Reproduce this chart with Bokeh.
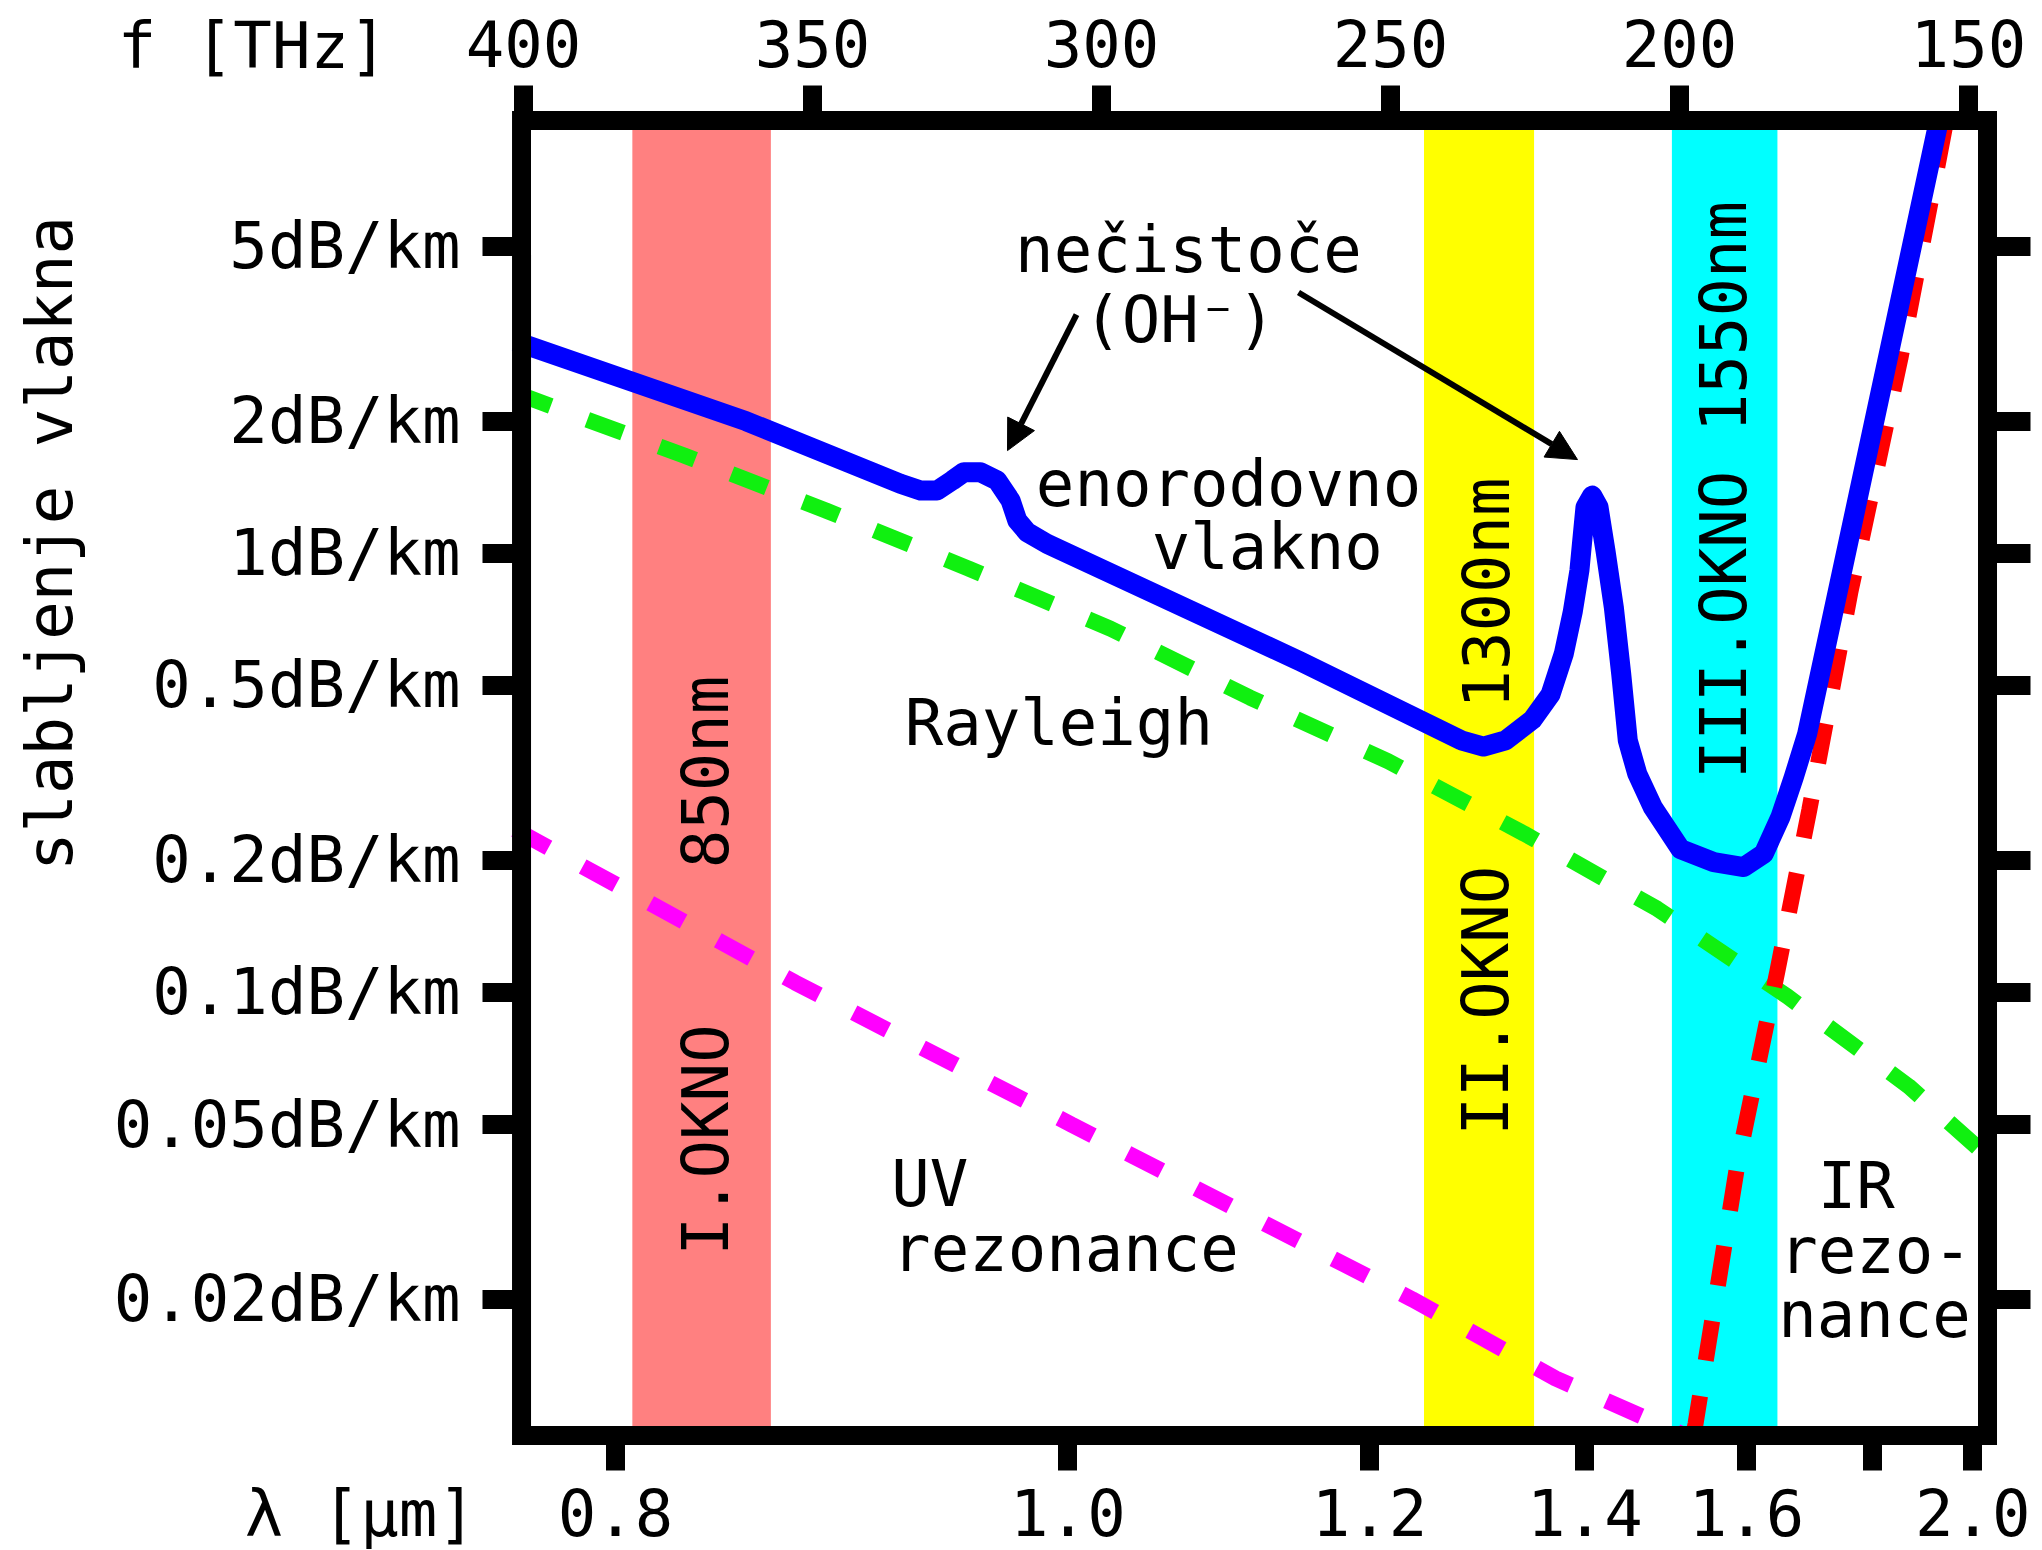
import math
from bokeh.plotting import figure
from bokeh.models import (Range1d, LinearAxis, LogAxis, FixedTicker, CustomJSTickFormatter,
                          Label, Arrow, NormalHead, BoxAnnotation)
from bokeh.embed import file_html
from bokeh.resources import INLINE

C = 299.792458  # THz * um

# ---------------- data (wavelength in um, attenuation in dB/km) ----------------
band_lo = [0.806, 1.245, 1.501]
band_hi = [0.859, 1.347, 1.645]
band_colors = ["#ff8080", "#ffff00", "#00ffff"]

fiber_lam = [0.766, 0.849, 0.9153, 0.9247, 0.9326, 0.9399, 0.9456, 0.9539, 0.9624, 0.9693,
             0.9728, 0.9780, 0.9887, 1.1475, 1.2777, 1.2981, 1.3190, 1.3454, 1.3637, 1.3776,
             1.3870, 1.3941, 1.3971, 1.4006, 1.4079, 1.4149, 1.4208, 1.4226, 1.4320, 1.4404,
             1.4480, 1.4590, 1.4776, 1.5118, 1.5550, 1.5962, 1.6249, 1.6496, 1.6698, 1.6907,
             1.928]
fiber_att = [3.04, 2.00, 1.440, 1.390, 1.390, 1.465, 1.530, 1.530, 1.465, 1.319,
             1.188, 1.117, 1.051, 0.567, 0.375, 0.363, 0.375, 0.418, 0.477, 0.592,
             0.737, 0.915, 1.069, 1.274, 1.354, 1.274, 1.069, 1.015, 0.754, 0.532,
             0.375, 0.315, 0.264, 0.212, 0.198, 0.193, 0.207, 0.251, 0.309, 0.388,
             9.68]

rayleigh_lam = [0.766, 0.825, 0.882, 0.948, 1.024, 1.112, 1.215, 1.337, 1.483, 1.660, 1.868, 2.033]
rayleigh_att = [2.32, 1.670, 1.252, 0.923, 0.674, 0.469, 0.336, 0.230, 0.155, 0.0979, 0.0611, 0.0423]

uv_lam = [0.766, 0.869, 1.002, 1.235, 1.369, 1.518]
uv_att = [0.235, 0.1053, 0.0500, 0.0200, 0.0132, 0.00979]

ir_lam = [1.528, 1.531, 1.587, 1.644, 1.694, 1.762, 1.852, 1.917, 1.943]
ir_att = [0.00979, 0.0104, 0.0403, 0.110, 0.260, 0.818, 2.78, 6.84, 9.68]

f_ticks = [400, 350, 300, 250, 200, 150]
f_labels = ["400", "350", "300", "250", "200", "150"]
lam_ticks = [0.8, 1.0, 1.2, 1.4, 1.6, 1.8, 2.0]
lam_labels = ["0.8", "1.0", "1.2", "1.4", "1.6", "", "2.0"]
att_ticks = [5, 2, 1, 0.5, 0.2, 0.1, 0.05, 0.02]
att_labels = ["5dB/km", "2dB/km", "1dB/km", "0.5dB/km", "0.2dB/km", "0.1dB/km",
              "0.05dB/km", "0.02dB/km"]

FONT = "DejaVu Sans Mono"
FS = "64px"

# box of the chart (data units)
F_LEFT, F_RIGHT = 390.31, 147.44      # THz, lower (wavelength) scale
FT_LEFT, FT_RIGHT = 400.35, 146.7     # THz, upper scale
A_BOT, A_TOP = 0.00979, 9.68          # dB/km


def fx(lam):
    return C / lam


def fmt(vals, labs):
    return CustomJSTickFormatter(args=dict(vals=list(vals), labs=list(labs)), code="""
        let best = 0, bd = Infinity;
        for (let i = 0; i < vals.length; i++) {
            const d = Math.abs(vals[i] - tick);
            if (d < bd) { bd = d; best = i; }
        }
        return labs[best];
    """)


p = figure(width=2042, height=1550, output_backend="svg", toolbar_location=None,
           x_range=Range1d(476.63, 138.33), y_range=Range1d(0.005356, 18.16),
           y_axis_type="log", x_axis_location=None, y_axis_location=None,
           min_border=0, background_fill_color="white", border_fill_color="white",
           outline_line_color=None)
p.extra_x_ranges = {"freq": Range1d(490.49, 137.18)}
p.xgrid.visible = False
p.ygrid.visible = False


def style(ax, tick_out, standoff):
    ax.axis_line_color = None
    ax.major_tick_line_color = "black"
    ax.major_tick_line_width = 19
    ax.major_tick_in = 0
    ax.major_tick_out = tick_out
    ax.minor_tick_line_color = None
    ax.major_label_text_font = FONT
    ax.major_label_text_font_size = FS
    ax.major_label_text_color = "black"
    ax.major_label_standoff = standoff


bottom = LinearAxis(ticker=FixedTicker(ticks=[fx(l) for l in lam_ticks]),
                    formatter=fmt([fx(l) for l in lam_ticks], lam_labels),
                    fixed_location=A_BOT, bounds=(F_RIGHT, F_LEFT))
style(bottom, 35, 19)
p.add_layout(bottom, "below")

top = LinearAxis(x_range_name="freq", ticker=FixedTicker(ticks=f_ticks),
                 formatter=fmt(f_ticks, f_labels), fixed_location=A_TOP,
                 bounds=(FT_RIGHT, FT_LEFT))
style(top, 35, 18)
p.add_layout(top, "above")

left = LogAxis(ticker=FixedTicker(ticks=att_ticks), formatter=fmt(att_ticks, att_labels),
               fixed_location=F_LEFT, bounds=(A_BOT, A_TOP))
style(left, 39, 22)
p.add_layout(left, "left")

right = LogAxis(ticker=FixedTicker(ticks=att_ticks), formatter=fmt(att_ticks, [""] * len(att_ticks)),
                fixed_location=F_RIGHT, bounds=(A_BOT, A_TOP))
style(right, 43, 0)
p.add_layout(right, "right")

# wavelength windows
for lo, hi, col in zip(band_lo, band_hi, band_colors):
    p.add_layout(BoxAnnotation(left=fx(hi), right=fx(lo), bottom=A_BOT, top=A_TOP,
                               fill_color=col, fill_alpha=1.0, line_color=None, level="underlay"))

# attenuation mechanisms
p.line([fx(l) for l in uv_lam], uv_att, line_color="#ff00ff", line_width=16, line_dash="38 39")
p.line([fx(l) for l in rayleigh_lam], rayleigh_att, line_color="#10f010", line_width=16,
       line_dash="38 39")
p.line([fx(l) for l in ir_lam], ir_att, line_color="#ff0000", line_width=16, line_dash="40 36")
p.line([fx(l) for l in fiber_lam], fiber_att, line_color="#0000ff", line_width=20,
       line_join="round")

# chart frame
p.add_layout(BoxAnnotation(left=F_LEFT, right=F_RIGHT, bottom=A_BOT, top=A_TOP,
                           fill_color=None, fill_alpha=0, line_color="black", line_alpha=1.0,
                           line_width=19, line_join="miter", level="overlay"))

# arrows
for (l0, v0, l1, v1) in [(1.00478, 3.498, 0.9677, 1.714), (1.14604, 3.926, 1.392, 1.635)]:
    p.add_layout(Arrow(x_start=fx(l0), y_start=v0, x_end=fx(l1), y_end=v1,
                       line_color="black", line_width=6,
                       end=NormalHead(size=30, fill_color="black", line_color="black")))

# texts (position: wavelength, attenuation, angle)
texts = [
    ("nečistoče", 1.0714, 4.919, 0.0),
    ("(OH⁻)", 1.0657, 3.407, 0.0),
    ("enorodovno", 1.0974, 1.441, 0.0),
    ("vlakno", 1.1238, 1.036, 0.0),
    ("Rayleigh", 0.9950, 0.4117, 0.0),
    ("UV", 0.92911, 0.03660, 0.0),
    ("rezonance", 0.99868, 0.02610, 0.0),
    ("IR", 1.7721, 0.03614, 0.0),
    ("rezo-", 1.806, 0.02582, 0.0),
    ("nance", 1.8042, 0.01838, 0.0),
    ("850nm", 0.83317, 0.3177, math.pi / 2),
    ("I.OKNO", 0.83317, 0.04613, math.pi / 2),
    ("1300nm", 1.30154, 0.812, math.pi / 2),
    ("II.OKNO", 1.30047, 0.0958, math.pi / 2),
    ("III.OKNO 1550nm", 1.56948, 1.394, math.pi / 2),
    ("slabljenje vlakna", 0.63991, 1.053, math.pi / 2),
    ("f [THz]", 0.6894, 14.27, 0.0),
    ("λ [μm]", 0.7189, 0.006470, 0.0),
]
for t, lam, v, ang in texts:
    p.add_layout(Label(x=fx(lam), y=v, text=t, text_font=FONT, text_font_size=FS,
                       text_color="black", text_align="center", text_baseline="alphabetic",
                       angle=ang))

open("out.html", "w").write(file_html(p, INLINE))
